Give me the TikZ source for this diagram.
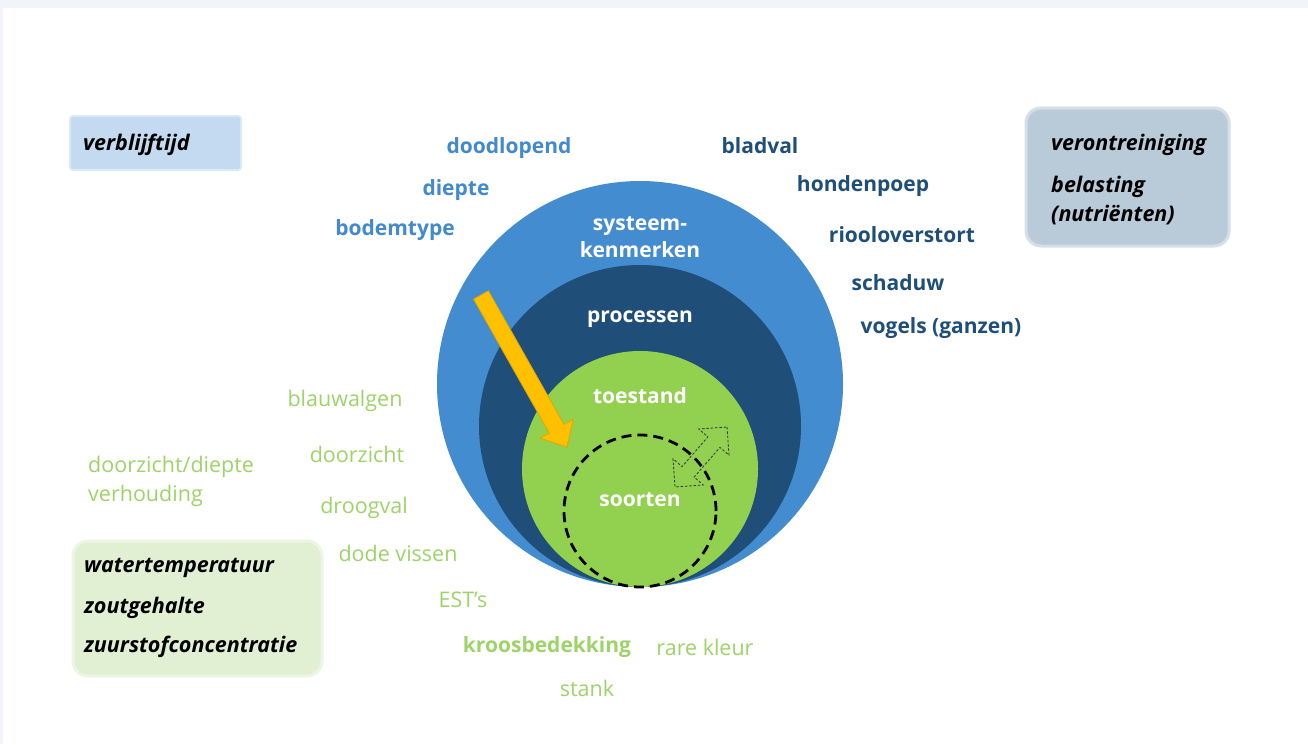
\documentclass[tikz,border=0pt]{standalone}
\usepackage{fontspec}
\setmainfont{Open Sans}
\usetikzlibrary{calc}
\definecolor{bgc}{HTML}{F1F5FA}
\definecolor{outerc}{HTML}{438CCF}
\definecolor{midc}{HTML}{1F4E79}
\definecolor{greenc}{HTML}{92D050}
\definecolor{ltxt}{HTML}{4289CD}
\definecolor{dtxt}{HTML}{1F4E79}
\definecolor{gtxt}{HTML}{9ED36A}
\definecolor{boxblue}{HTML}{C3DAF0}
\definecolor{boxgray}{HTML}{B9CAD9}
\definecolor{boxgreen}{HTML}{E1EFD3}
\definecolor{arrowc}{HTML}{FFC000}
\definecolor{arrowd}{HTML}{E0A800}
\tikzset{
  lbl/.style={font=\fontsize{21}{25}\selectfont\bfseries, text=ltxt, inner sep=0pt},
  dlbl/.style={font=\fontsize{21}{25}\selectfont\bfseries, text=dtxt, inner sep=0pt},
  glbl/.style={font=\fontsize{21.5}{25}\selectfont, text=gtxt, inner sep=0pt},
  wlbl/.style={font=\fontsize{21}{27}\selectfont\bfseries, text=white, inner sep=0pt, align=center},
  btxt/.style={font=\fontsize{21.5}{25}\selectfont\bfseries\itshape, text=black, inner sep=0pt, anchor=west},
  ring/.style={circle, inner sep=0pt, draw=none},
}
\begin{document}
\begin{tikzpicture}[x=1pt,y=-1pt]
\useasboundingbox (0,0) rectangle (1308,744);
\fill[bgc] (0,0) rectangle (1308,744);
\fill[white] (3,8) rectangle (1308,744);

% boxes
\node[draw=boxblue!60, line width=2pt, fill=boxblue, rounded corners=3pt, minimum width=171pt, minimum height=54pt, inner sep=0pt] (bverb) at (155.5,143) {};
\node[btxt] (verb) at (83,145) {verblijftijd};

\node[draw=boxgray!60, line width=3pt, fill=boxgray, rounded corners=15pt, minimum width=203pt, minimum height=138pt, inner sep=0pt] (bgray) at (1127.5,177) {};
\node[btxt] (veron) at (1051,145) {verontreiniging};
\node[btxt] (belas) at (1051,187) {belasting};
\node[btxt] (nutr) at (1051,215) {(nutriënten)};

\node[draw=boxgreen!60, line width=3pt, fill=boxgreen, rounded corners=15pt, minimum width=249pt, minimum height=135pt, inner sep=0pt] (bgreen) at (197.5,608.5) {};
\node[btxt] (wt) at (84,568) {watertemperatuur};
\node[btxt] (zg) at (84,608) {zoutgehalte};
\node[btxt] (zs) at (84,647) {zuurstofconcentratie};

% circles
\node[ring, fill=outerc, minimum size=406pt] (outer) at (640,384) {};
\node[ring, fill=midc, minimum size=322pt] (mid) at (640,426) {};
\node[ring, fill=greenc, minimum size=236pt] (inner) at (640,469) {};
\node[ring, draw=black, line width=2.8pt, dash pattern=on 10pt off 6pt, minimum size=152pt] (dashc) at (640,511) {};

\node[wlbl] (sys) at (640,237) {systeem-\\kenmerken};
\node[wlbl] (proc) at (640,319) {processen};
\node[wlbl] (toe) at (640,396) {toestand};
\node[wlbl] (soort) at (640,500) {soorten};

% yellow arrow
\coordinate (T) at (481,295);
\coordinate (H) at (567,447);
\coordinate (S) at ($(H)!21pt!(T)$);
\filldraw[fill=arrowc, draw=arrowd, line width=0.8pt, line join=miter]
  ($(T)!8.5pt!90:(H)$) -- ($(S)!8.5pt!-90:(T)$) -- ($(S)!19pt!-90:(T)$) -- (H)
  -- ($(S)!19pt!90:(T)$) -- ($(S)!8.5pt!90:(T)$) -- ($(T)!8.5pt!-90:(H)$) -- cycle;

% dashed double arrow
\coordinate (A) at (727,427);
\coordinate (B) at (675,487);
\coordinate (SA) at ($(A)!20pt!(B)$);
\coordinate (SB) at ($(B)!20pt!(A)$);
\draw[black!80, line width=0.8pt, dash pattern=on 2.5pt off 1.8pt, line join=miter]
  (A) -- ($(SA)!20pt!90:(B)$) -- ($(SA)!8pt!90:(B)$) -- ($(SB)!8pt!-90:(A)$) -- ($(SB)!20pt!-90:(A)$)
  -- (B) -- ($(SB)!20pt!90:(A)$) -- ($(SB)!8pt!90:(A)$) -- ($(SA)!8pt!-90:(B)$) -- ($(SA)!20pt!-90:(B)$) -- cycle;

% light blue labels
\node[lbl] (dood) at (509,148) {doodlopend};
\node[lbl] (diep) at (456,190) {diepte};
\node[lbl] (bod) at (395,230) {bodemtype};

% dark blue labels
\node[dlbl] (blad) at (760,146) {bladval};
\node[dlbl] (hond) at (863,186) {hondenpoep};
\node[dlbl] (riool) at (902,235) {riooloverstort};
\node[dlbl] (scha) at (898,283) {schaduw};
\node[dlbl] (vog) at (941,328) {vogels (ganzen)};

% green labels
\node[glbl] (blauw) at (345,401) {blauwalgen};
\node[glbl] (door) at (357,454) {doorzicht};
\node[glbl, anchor=west] (dd) at (88,467) {doorzicht/diepte};
\node[glbl, anchor=west] (verh) at (88,496) {verhouding};
\node[glbl] (droog) at (364,508) {droogval};
\node[glbl] (dode) at (398,553) {dode vissen};
\node[glbl] (est) at (463,600) {EST’s};
\node[glbl, font=\fontsize{21}{25}\selectfont\bfseries] (kroos) at (547,647) {kroosbedekking};
\node[glbl] (rare) at (705,647) {rare kleur};
\node[glbl] (stank) at (587,688) {stank};
\end{tikzpicture}
\end{document}
